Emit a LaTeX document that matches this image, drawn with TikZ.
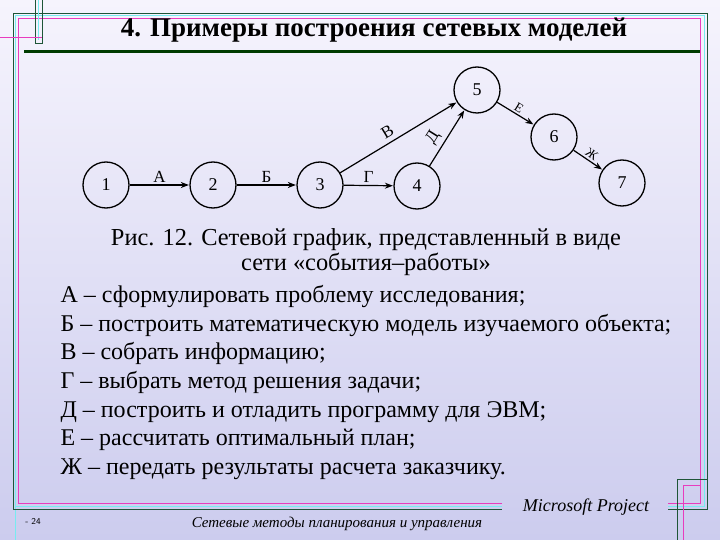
\documentclass[tikz,border=0pt]{standalone}
\usepackage{fontspec}
\setmainfont{Liberation Serif}
\usetikzlibrary{arrows.meta}
\definecolor{bgtop}{RGB}{246,244,253}
\definecolor{bgbot}{RGB}{204,204,238}
\definecolor{frgreen}{RGB}{30,85,55}
\definecolor{frpink}{RGB}{232,60,190}
\definecolor{frcyan}{RGB}{120,235,240}
\definecolor{ulgreen}{RGB}{0,60,0}
\begin{document}
\begin{tikzpicture}[x=1pt,y=-1pt,
  ev/.style={circle,draw,line width=1.3pt,minimum size=46pt,inner sep=0pt,font=\fontsize{18}{18}\selectfont},
  act/.style={-{Stealth[length=8pt,width=6pt]},line width=1.2pt,shorten >=0.5pt},
  lbl/.style={midway,above,sloped,inner sep=2pt,font=\fontsize{17}{17}\selectfont},
  slbl/.style={midway,above,sloped,inner sep=2pt,font=\fontsize{13}{13}\selectfont},
  gl/.style={frgreen,line width=0.9pt},
  pl/.style={frpink,line width=0.9pt},
  cl/.style={frcyan,line width=0.8pt},
  txt/.style={anchor=base west,font=\fontsize{24}{24}\selectfont}]
\useasboundingbox (0,0) rectangle (720,540);
\shade[top color=bgtop,bottom color=bgbot] (0,0) rectangle (720,540);
% frame
\draw[cl] (15.5,540) -- (15.5,15.5) -- (704,15.5) -- (704,506) -- (668,506);
\draw[cl] (502,506) -- (15.5,506);
\draw[gl] (13,509) -- (13,13) -- (707,13) -- (707,509) -- (668,509);
\draw[gl] (502,509) -- (13,509);
\draw[pl] (502,503) -- (18,503) -- (18,18) -- (700,18) -- (700,503) -- (668,503);
% top-left ornament
\draw[gl] (35,0) -- (35,43) -- (42,43) -- (42,0);
\draw[cl] (38.5,0) -- (38.5,40);
\draw[pl] (0,37) -- (42,37);
% bottom-right ornament
\draw[gl] (677,540) -- (677,479) -- (707,479);
\draw[pl] (683,540) -- (683,485) -- (700,485);
% title
\node[anchor=base,font=\fontsize{27}{27}\selectfont\bfseries] (title) at (374,37) {4. Примеры построения сетевых моделей};
\draw[ulgreen,line width=3pt] (24,52) -- (700,52);
% network
\node[ev] (n1) at (106,185) {1};
\node[ev] (n2) at (213,185) {2};
\node[ev] (n3) at (320,185) {3};
\node[ev] (n4) at (417,186) {4};
\node[ev] (n5) at (477,90) {5};
\node[ev] (n6) at (554,137) {6};
\node[ev] (n7) at (622,183) {7};
\draw[act] (n1) -- node[lbl] {А} (n2);
\draw[act] (n2) -- node[lbl] {Б} (n3);
\draw[act] (n3) -- node[lbl] {Г} (n4);
\draw[act] (n3) -- node[lbl,pos=0.45,inner sep=4pt] {В} (n5);
\draw[act] (n4) -- node[lbl,pos=0.4,inner sep=4pt] {Д} (n5);
\draw[act] (n5) -- node[slbl] {Е} (n6);
\draw[act] (n6) -- node[slbl] {Ж} (n7);
% caption
\node[anchor=base,font=\fontsize{24.4}{24.4}\selectfont] (c1) at (366,245) {Рис. 12. Сетевой график, представленный в виде};
\node[anchor=base,font=\fontsize{24.4}{24.4}\selectfont] (c2) at (366,270) {сети «события–работы»};
\node[txt] (t1) at (57,302) {А – сформулировать проблему исследования;};
\node[txt] (t2) at (57,331) {Б – построить математическую модель изучаемого объекта;};
\node[txt] (t3) at (57,359) {В – собрать информацию;};
\node[txt] (t4) at (57,388) {Г – выбрать метод решения задачи;};
\node[txt] (t5) at (57,417) {Д – построить и отладить программу для ЭВМ;};
\node[txt] (t6) at (57,445) {Е – рассчитать оптимальный план;};
\node[txt] (t7) at (57,474) {Ж – передать результаты расчета заказчику.};
% footer
\node[anchor=base,font=\fontsize{9}{9}\selectfont\sffamily] (pg) at (33,524) {- 24};
\node[anchor=base,font=\fontsize{15}{15}\selectfont\itshape] (ft) at (337,527) {Сетевые методы планирования и управления};
\node[anchor=base,font=\fontsize{18}{18}\selectfont\itshape] (ms) at (586,511) {Microsoft Project};
\end{tikzpicture}
\end{document}
